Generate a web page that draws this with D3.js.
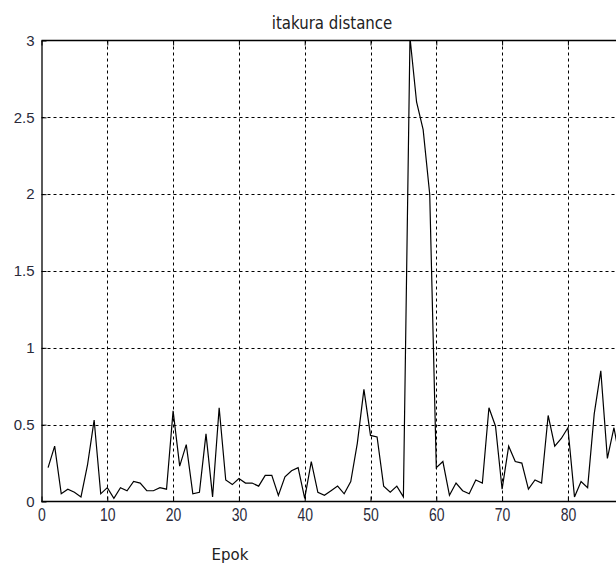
<!DOCTYPE html>
<html>
<head>
<meta charset="utf-8">
<script src="https://cdn.jsdelivr.net/npm/d3@7"></script>
<style>
  body { margin: 0; background: #fff; }
  svg { display: block; font-family: "DejaVu Sans", sans-serif; }
</style>
</head>
<body>
<div id="chart"></div>
<script>
// epoch numbers and itakura distance per epoch
const epochs = [1, 2, 3, 4, 5, 6, 7, 8, 9, 10, 11, 12, 13, 14, 15, 16, 17, 18, 19, 20,
  21, 22, 23, 24, 25, 26, 27, 28, 29, 30, 31, 32, 33, 34, 35, 36, 37, 38, 39, 40,
  41, 42, 43, 44, 45, 46, 47, 48, 49, 50, 51, 52, 53, 54, 55, 56, 57, 58, 59, 60,
  61, 62, 63, 64, 65, 66, 67, 68, 69, 70, 71, 72, 73, 74, 75, 76, 77, 78, 79, 80,
  81, 82, 83, 84, 85, 86, 87, 88];
const distances = [0.22, 0.36, 0.05, 0.08, 0.06, 0.03, 0.24, 0.53, 0.05, 0.09,
  0.02, 0.09, 0.07, 0.13, 0.12, 0.07, 0.07, 0.09, 0.08, 0.59,
  0.23, 0.37, 0.05, 0.06, 0.44, 0.03, 0.61, 0.14, 0.11, 0.15,
  0.12, 0.12, 0.10, 0.17, 0.17, 0.04, 0.16, 0.20, 0.22, 0.02,
  0.26, 0.06, 0.04, 0.07, 0.10, 0.05, 0.13, 0.38, 0.73, 0.43,
  0.42, 0.10, 0.06, 0.10, 0.03, 3.02, 2.60, 2.42, 2.00, 0.22,
  0.26, 0.04, 0.12, 0.07, 0.05, 0.14, 0.12, 0.61, 0.49, 0.08,
  0.36, 0.26, 0.25, 0.08, 0.14, 0.12, 0.56, 0.36, 0.41, 0.48,
  0.03, 0.13, 0.09, 0.57, 0.85, 0.28, 0.48, 0.25];
const xTicks = [0, 10, 20, 30, 40, 50, 60, 70, 80];
const yTicks = [0, 0.5, 1, 1.5, 2, 2.5, 3];

const W = 616, H = 565;
const margin = { top: 40.5, left: 41.5, bottom: 63.5 };
const plotH = H - margin.top - margin.bottom;

const svg = d3.select("#chart").append("svg")
    .attr("width", W)
    .attr("height", H);

// the original axes run past the right edge of the picture
const x = d3.scaleLinear().domain([0, 100]).range([margin.left, margin.left + 658]);
const y = d3.scaleLinear().domain([0, 3]).range([margin.top + plotH, margin.top]);

svg.append("defs").append("clipPath").attr("id", "plot")
    .append("rect")
    .attr("x", margin.left).attr("y", margin.top)
    .attr("width", W - margin.left).attr("height", plotH);

// grid
const grid = svg.append("g").attr("stroke", "#000").attr("stroke-width", 1)
    .attr("stroke-dasharray", "3,3").attr("clip-path", "url(#plot)");
grid.selectAll(".gx").data(xTicks.filter(d => d > 0))
    .join("line")
    .attr("x1", d => Math.round(x(d)) + 0.5).attr("x2", d => Math.round(x(d)) + 0.5)
    .attr("y1", y(3)).attr("y2", y(0));
grid.selectAll(".gy").data(yTicks.filter(d => d > 0 && d < 3))
    .join("line")
    .attr("x1", x(0)).attr("x2", W)
    .attr("y1", d => Math.round(y(d)) + 0.5).attr("y2", d => Math.round(y(d)) + 0.5);

// data line
const line = d3.line()
    .x((d, i) => x(epochs[i]))
    .y(d => y(d));
svg.append("path")
    .datum(distances)
    .attr("clip-path", "url(#plot)")
    .attr("fill", "none")
    .attr("stroke", "#000")
    .attr("stroke-width", 1.2)
    .attr("d", line);

// axes
const xAxis = svg.append("g")
    .attr("transform", `translate(0,${y(0)})`)
    .call(d3.axisBottom(x).tickValues(xTicks).tickSizeInner(-5).tickSizeOuter(0).tickPadding(12));
xAxis.select(".domain").attr("d", `M${x(0)},0H${W}`).attr("stroke-width", 1.3);
xAxis.selectAll("text")
    .attr("font-size", 14)
    .attr("fill", "#2a2a3a")
    .attr("transform", "scale(1,1.3)")
    .attr("y", 5).attr("dy", "0.71em");

const topAxis = svg.append("g")
    .attr("transform", `translate(0,${y(3)})`)
    .call(d3.axisTop(x).tickValues(xTicks).tickSizeInner(-5).tickSizeOuter(0).tickFormat(""));
topAxis.select(".domain").attr("d", `M${x(0)},0H${W}`).attr("stroke-width", 1.3);

const yAxis = svg.append("g")
    .attr("transform", `translate(${x(0)},0)`)
    .call(d3.axisLeft(y).tickValues(yTicks).tickSizeInner(-5).tickSizeOuter(0).tickPadding(7)
        .tickFormat(d => d3.format("")(d)));
yAxis.select(".domain").attr("stroke-width", 1.3);
yAxis.selectAll("text")
    .attr("font-size", 15)
    .attr("fill", "#2a2a3a");

// title and label
svg.append("text")
    .attr("transform", "translate(332,29) scale(1,1.2)")
    .attr("text-anchor", "middle")
    .attr("font-size", 15)
    .attr("fill", "#222")
    .text("itakura distance");

svg.append("text")
    .attr("x", 230).attr("y", 560)
    .attr("text-anchor", "middle")
    .attr("font-size", 15)
    .attr("fill", "#222")
    .text("Epok");
</script>
</body>
</html>
